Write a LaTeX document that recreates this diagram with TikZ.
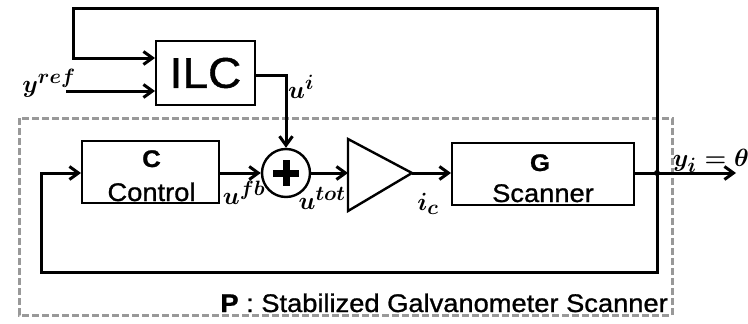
\documentclass[tikz,border=0pt]{standalone}
\usepackage{fontspec}
\setmainfont{Liberation Sans}[FakeStretch=1.07,FakeBold=1]
\usetikzlibrary{arrows.meta,calc}
\begin{document}
\begin{tikzpicture}[x=1pt,y=-1pt,
  blk/.style={draw,line width=2pt,rectangle,inner sep=0pt},
  arr/.style={line width=3pt,-{Straight Barb[length=9pt,width=13pt]}},
  ln/.style={line width=3pt},
  mlab/.style={font=\fontsize{29}{29}\selectfont\boldmath,inner sep=0pt},
  tlab/.style={font=\fontsize{25.5}{25.5}\selectfont,inner sep=0pt}]
\useasboundingbox (0,0) rectangle (748,324);
% dashed plant box
\draw[gray!80,line width=3pt,dash pattern=on 7pt off 3pt] (19,118) rectangle (672,315);
% blocks
\node[blk,minimum width=99pt,minimum height=64pt,font=\fontsize{43}{43}\selectfont] (ilc) at (205.5,73) {ILC};
\node[blk,minimum width=137pt,minimum height=62pt] (c) at (150.5,172) {};
\node[tlab,font=\fontsize{24}{24}\selectfont\bfseries,anchor=base] (ct) at (151.5,167) {C};
\node[tlab,anchor=base] (cc) at (151.5,201) {Control};
\node[blk,minimum width=182pt,minimum height=62pt] (g) at (543,174) {};
\node[tlab,font=\fontsize{24}{24}\selectfont\bfseries,anchor=base] (gt) at (540,171) {G};
\node[tlab,anchor=base] (gs) at (543,202) {Scanner};
\node[circle,draw,line width=2.4pt,minimum size=48pt,inner sep=0pt] (sum) at (286,173) {};
\draw[line width=7pt] ($(sum.center)+(-13,0)$) -- ($(sum.center)+(13,0)$);
\draw[line width=7pt] ($(sum.center)+(0,-13)$) -- ($(sum.center)+(0,13)$);
% amplifier
\coordinate (ampin) at (348,173);
\coordinate (ampout) at (412,173);
\draw[line width=2.4pt,line join=miter] (348,139) -- (ampout) -- (348,211) -- cycle;
% junction and ends
\coordinate (j) at (657,173);
\coordinate (outend) at (736,173);
\coordinate (yrefin) at (66,91);
\coordinate (tl) at (73,8);
\coordinate (bl) at (41,272);
% connectors
\draw[arr] (j) |- (tl) |- ([yshift=15pt]ilc.west);
\draw[arr] (yrefin) -- (yrefin -| ilc.west);
\draw[arr] ([yshift=-2pt]ilc.east) -| (sum.north);
\draw[arr] (c.east |- sum) -- (sum.west);
\draw[arr] (sum.east) -- (ampin);
\draw[arr] (ampout) -- (ampout -| g.west);
\draw[ln] (g.east |- j) -- (j);
\draw[arr] (j) -- (outend);
\draw[arr] (j) |- (bl) |- (c.west |- sum);
\fill (j) circle (3pt);
% labels
\node[mlab] (lyref) at (49,83) {$y^{ref}$};
\node[mlab] (lui) at (301,87) {$u^{i}$};
\node[mlab] (lufb) at (244,193) {$u^{fb}$};
\node[mlab] (lutot) at (322,198) {$u^{tot}$};
\node[mlab] (lic) at (428,204) {$i_{c}$};
\node[mlab] (ly) at (711,161) {$y_{i}=\theta$};
\node[tlab,anchor=base east] (lp) at (668,312) {\textbf{P} : Stabilized Galvanometer Scanner};
\end{tikzpicture}
\end{document}
